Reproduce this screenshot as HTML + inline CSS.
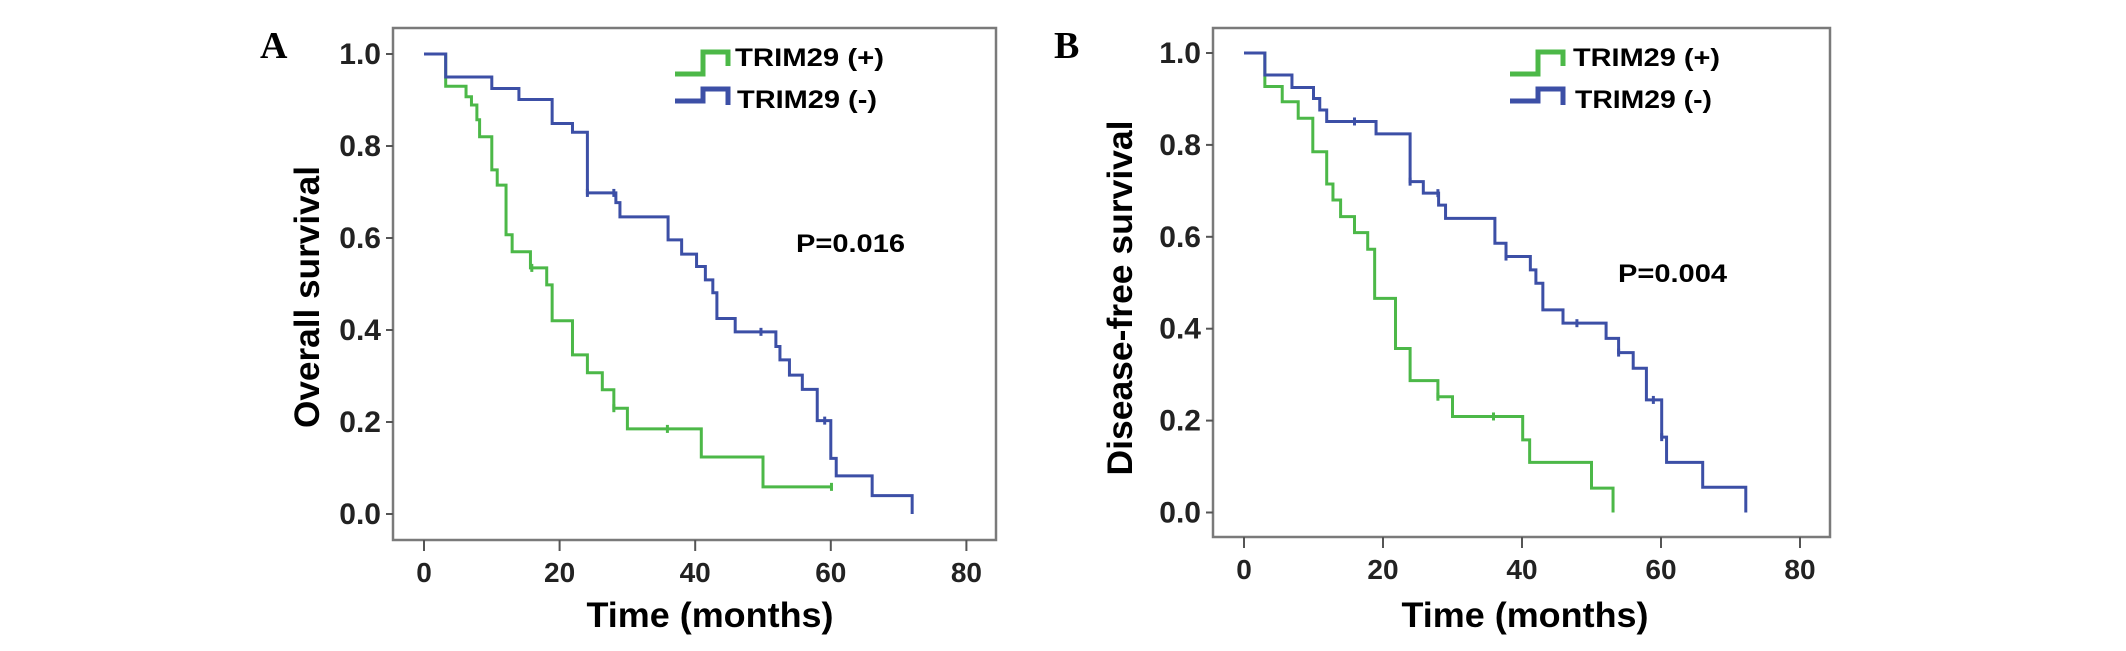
<!DOCTYPE html>
<html><head><meta charset="utf-8"><style>
html,body{margin:0;padding:0;background:#fff;}
svg{display:block;font-family:"Liberation Sans",Arial,sans-serif;}
</style></head><body>
<svg id="fig" width="2126" height="651" viewBox="0 0 2126 651">
</svg>
<script>
// ---- Panel A data (Overall survival) ----
const aGreenT = [0, 3.2, 6.2, 7.0, 7.8, 8.2, 10.0, 10.8, 12.1, 13.0, 15.7, 18.1, 18.9, 21.9, 24.1, 26.3, 28.0, 30.0, 40.9, 50.0];
const aGreenS = [1.0, 0.93, 0.907, 0.889, 0.857, 0.820, 0.748, 0.715, 0.607, 0.570, 0.535, 0.498, 0.420, 0.346, 0.307, 0.270, 0.230, 0.185, 0.124, 0.059];
const aGreenEnd = 60.1;
const aGreenCensT = [15.9, 28.0, 35.9, 60.1];
const aBlueT = [0, 3.2, 10.0, 14.0, 18.9, 21.9, 24.1, 28.3, 28.9, 36.0, 38.0, 40.2, 41.5, 42.6, 43.2, 45.9, 51.9, 52.5, 53.9, 55.8, 58.0, 60.0, 60.8, 66.1];
const aBlueS = [1.0, 0.95, 0.925, 0.901, 0.849, 0.830, 0.698, 0.677, 0.646, 0.596, 0.565, 0.538, 0.509, 0.481, 0.425, 0.396, 0.364, 0.335, 0.302, 0.271, 0.203, 0.121, 0.083, 0.040];
const aBlueEnd = 72.0;
const aBlueFinal = 0.0;
const aBlueCensT = [24.1, 28.0, 49.7, 59.1];
// ---- Panel B data (Disease-free survival) ----
const bGreenT = [0, 3.0, 5.5, 7.8, 9.9, 11.9, 12.8, 13.9, 15.9, 17.8, 18.8, 21.8, 23.9, 27.9, 30.0, 40.1, 41.1, 50.0];
const bGreenS = [1.0, 0.927, 0.894, 0.858, 0.785, 0.715, 0.680, 0.644, 0.609, 0.573, 0.466, 0.357, 0.287, 0.252, 0.209, 0.158, 0.109, 0.053];
const bGreenEnd = 53.1;
const bGreenFinal = 0.0;
const bGreenCensT = [27.9, 35.9];
const bBlueT = [0, 3.0, 6.9, 10.0, 10.9, 11.9, 19.0, 23.9, 25.8, 28.0, 29.0, 36.1, 37.7, 41.2, 42.0, 43.0, 45.9, 52.1, 53.9, 56.0, 57.9, 60.1, 60.8, 66.0];
const bBlueS = [1.0, 0.952, 0.925, 0.901, 0.876, 0.851, 0.824, 0.720, 0.695, 0.669, 0.640, 0.586, 0.557, 0.528, 0.499, 0.441, 0.412, 0.379, 0.348, 0.314, 0.245, 0.164, 0.109, 0.055];
const bBlueEnd = 72.2;
const bBlueFinal = 0.0;
const bBlueCensT = [15.9, 23.9, 27.9, 37.7, 47.9, 53.9, 58.9, 60.1];
const xTicks = [0, 20, 40, 60, 80];
const yTicks = [0.0, 0.2, 0.4, 0.6, 0.8, 1.0];

const NS = 'http://www.w3.org/2000/svg';
const svg = document.getElementById('fig');
const GREEN = '#4cb848', BLUE = '#3c4fa6';
function mk(tag, attrs, parent){
  const e = document.createElementNS(NS, tag);
  for (const k in attrs) e.setAttribute(k, attrs[k]);
  (parent || svg).appendChild(e);
  return e;
}
function stepAt(T, S, t){ let s = S[0]; for (let i=0;i<T.length;i++){ if (T[i] <= t) s = S[i]; } return s; }

function panel(cfg){
  const g = mk('g', {});
  
  
  const X = t => cfg.x0 + t * cfg.kx;
  const Y = s => cfg.y0 - s * cfg.ky;
  const box = mk('rect', {x:cfg.L, y:cfg.T, width:cfg.R-cfg.L, height:cfg.B-cfg.T, fill:'none', stroke:'#7a7a7a', 'stroke-width':2.5}, g);
  
  
  yTicks.forEach(v => {
    const tk = mk('line', {x1:cfg.L-7, x2:cfg.L, y1:Y(v), y2:Y(v), stroke:'#555', 'stroke-width':2}, g);
    
    
    const lb = mk('text', {x:cfg.L-12, y:Y(v)+10, 'text-anchor':'end', 'font-size':30, 'font-weight':'bold', fill:'#222'}, g);
    lb.textContent = v.toFixed(1);
    
    
  });
  xTicks.forEach(v => {
    const tk = mk('line', {x1:X(v), x2:X(v), y1:cfg.B, y2:cfg.B+11, stroke:'#555', 'stroke-width':2}, g);
    
    
    const lb = mk('text', {x:X(v), y:cfg.B+42, 'text-anchor':'middle', 'font-size':28, 'font-weight':'bold', fill:'#222'}, g);
    lb.textContent = String(v);
    
    
  });
  const xt = mk('text', {x:cfg.xtx, y:627, 'text-anchor':'middle', 'font-size':35, 'font-weight':'bold', fill:'#000', textLength:247, lengthAdjust:'spacingAndGlyphs'}, g);
  xt.textContent = 'Time (months)';
  
  
  const yt = mk('text', {x:0, y:0, 'text-anchor':'middle', 'font-size':35, 'font-weight':'bold', fill:'#000', textLength:cfg.ytLen, lengthAdjust:'spacingAndGlyphs', transform:`translate(${cfg.ytx},${cfg.yty}) rotate(-90)`}, g);
  yt.textContent = cfg.ytitle;
  
  
  const pl = mk('text', {x:cfg.letterX, y:58, 'font-family':'"Liberation Serif",serif', 'font-size':38, 'font-weight':'bold', fill:'#000'}, g);
  pl.textContent = cfg.letter;
  
  

  function curve(T, S, end, finalS, cens, color, name){
    let d = `M${X(T[0])},${Y(S[0])}`;
    for (let i=1;i<T.length;i++){ d += ` H${X(T[i])} V${Y(S[i])}`; }
    d += ` H${X(end)}`;
    if (finalS !== null) d += ` V${Y(finalS)}`;
    const p = mk('path', {d, fill:'none', stroke:color, 'stroke-width':3}, g);
    
    
    cens.forEach(t => {
      const s = stepAt(T, S, t);
      const c = mk('line', {x1:X(t), x2:X(t), y1:Y(s)-4, y2:Y(s)+4, stroke:color, 'stroke-width':3}, g);
      
      
    });
  }
  curve(cfg.gT, cfg.gS, cfg.gEnd, cfg.gFinal, cfg.gC, GREEN, 'trim29-positive-curve');
  curve(cfg.bT, cfg.bS, cfg.bEnd, cfg.bFinal, cfg.bC, BLUE, 'trim29-negative-curve');

  // legend
  const lx = cfg.legX;
  [[GREEN, 'TRIM29 (+)', 74, 52, 66, 66, cfg.tw1, 0], [BLUE, 'TRIM29 (-)', 101, 89, 105, 108, cfg.tw2, 2]].forEach(([col, txt, lo, hi, re, ty, w, dx]) => {
    const ic = mk('path', {d:`M${lx},${lo} H${lx+28} V${hi} H${lx+53} V${re}`, fill:'none', stroke:col, 'stroke-width':5}, g);
    
    
    const tx = mk('text', {x:cfg.legTX+dx, y:ty, 'font-size':25, 'font-weight':'bold', fill:'#000', textLength:w, lengthAdjust:'spacingAndGlyphs'}, g);
    tx.textContent = txt;
    
    
  });
  const pv = mk('text', {x:cfg.pX, y:cfg.pY, 'font-size':25, 'font-weight':'bold', fill:'#000', textLength:109, lengthAdjust:'spacingAndGlyphs'}, g);
  pv.textContent = cfg.pText;
  
  
}

panel({id:'a', L:393, T:28, R:996, B:540, x0:424, kx:6.78, y0:514, ky:460,
  xtx:710, ytx:319, yty:297, ytLen:262, ytitle:'Overall survival', letter:'A', letterX:260,
  gT:aGreenT, gS:aGreenS, gEnd:aGreenEnd, gFinal:null, gC:aGreenCensT,
  bT:aBlueT, bS:aBlueS, bEnd:aBlueEnd, bFinal:aBlueFinal, bC:aBlueCensT,
  legX:675, legTX:735, tw1:149, tw2:140, pX:796, pY:252, pText:'P=0.016'});
panel({id:'b', L:1213, T:28, R:1830, B:537, x0:1244, kx:6.95, y0:512.5, ky:459.5,
  xtx:1525, ytx:1132, yty:298, ytLen:355, ytitle:'Disease-free survival', letter:'B', letterX:1054,
  gT:bGreenT, gS:bGreenS, gEnd:bGreenEnd, gFinal:bGreenFinal, gC:bGreenCensT,
  bT:bBlueT, bS:bBlueS, bEnd:bBlueEnd, bFinal:bBlueFinal, bC:bBlueCensT,
  legX:1510, legTX:1573, tw1:147, tw2:137, pX:1618, pY:282, pText:'P=0.004'});
</script>
</body></html>
